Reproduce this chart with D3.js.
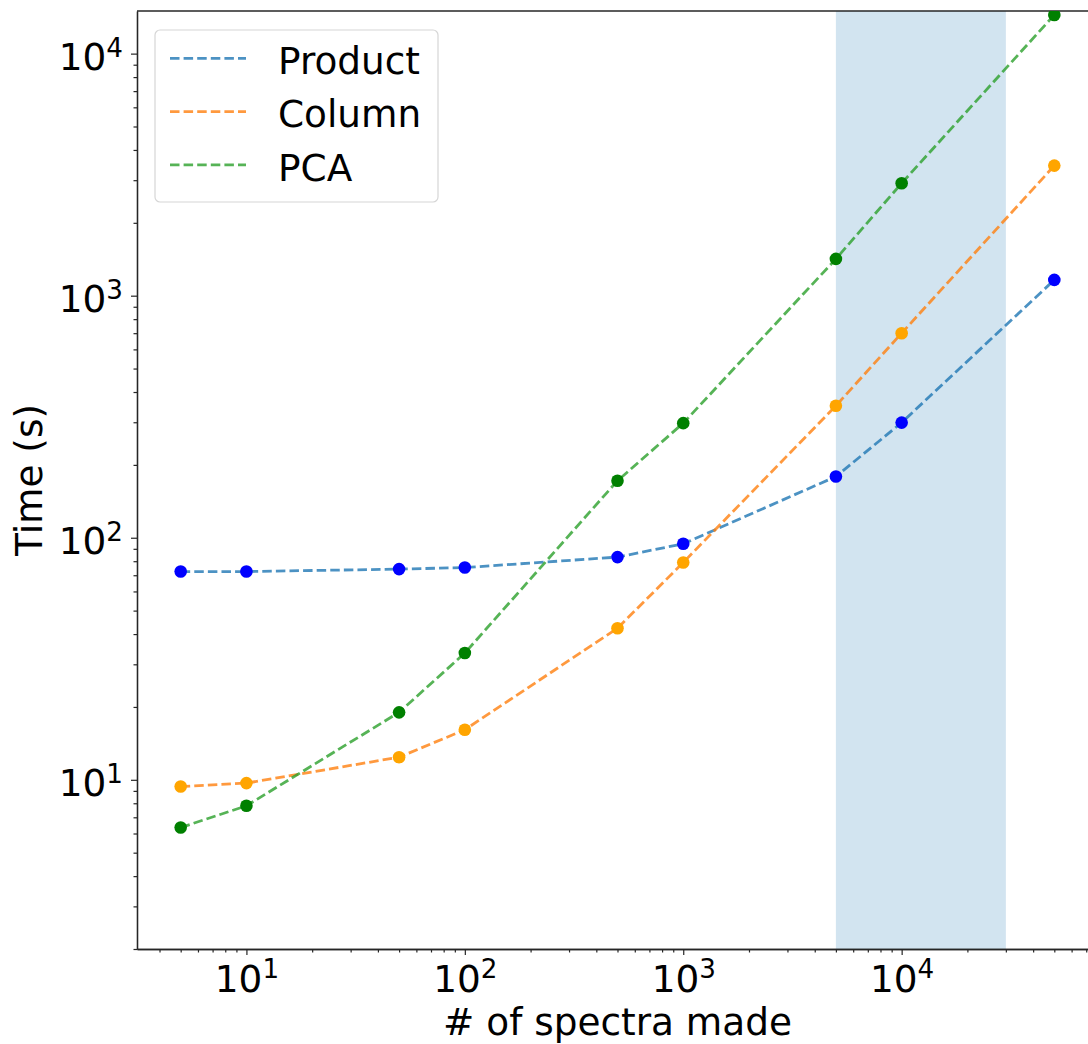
<!DOCTYPE html>
<html>
<head>
<meta charset="utf-8">
<script src="https://cdn.jsdelivr.net/npm/d3@7/dist/d3.min.js"></script>
<style>
  html, body { margin: 0; padding: 0; background: #fff; }
  svg { display: block; font-family: "DejaVu Sans", sans-serif; }
</style>
</head>
<body>
<svg id="chart" width="1088" height="1044"></svg>
<script>
// Number of spectra generated for each timing run
const spectraCounts = [5, 10, 50, 100, 500, 1000, 5000, 10000, 50000];

// Wall-clock time (s) for each method
const productTimes = [72.5, 72.5, 74.2, 75.3, 83.2, 94.4, 179, 299, 1162];
const columnTimes  = [9.38, 9.69, 12.4, 16.1, 42.3, 79.0, 351, 700, 3446];
const pcaTimes     = [6.35, 7.81, 19.0, 33.4, 172, 297.5, 1419, 2915, 14450];

const seriesNames  = ["Product", "Column", "PCA"];
const lineColors   = ["#1f77b4", "#ff7f0e", "#2ca02c"];
const markerColors = ["blue", "orange", "green"];

// Highlighted band of spectra counts
const highlightRange = [5000, 30000];

// Axis limits and major tick exponents
const xDomain = [3.155, 79250];
const yDomain = [2, 15000];
const xTickExponents = [1, 2, 3, 4];
const yTickExponents = [1, 2, 3, 4];

const xLabel = "# of spectra made";
const yLabel = "Time (s)";

// ---------------------------------------------------------------
const svg = d3.select("#chart");
const plot = { left: 137, right: 1098, top: 11, bottom: 949 };
const FONT = 37.4;
const AXIS_COLOR = "#262626";
const LINE_W = 2.8;
const DASH = "9.5 4.1";

const x = d3.scaleLog().domain(xDomain).range([plot.left, plot.right]);
const y = d3.scaleLog().domain(yDomain).range([plot.bottom, plot.top]);

const series = [productTimes, columnTimes, pcaTimes].map((vals, i) => ({
  name: seriesNames[i],
  line: lineColors[i],
  marker: markerColors[i],
  points: spectraCounts.map((c, j) => ({ x: c, y: vals[j] }))
}));

svg.append("defs").append("clipPath").attr("id", "plot-clip")
  .append("rect")
  .attr("x", plot.left).attr("y", plot.top)
  .attr("width", plot.right - plot.left).attr("height", plot.bottom - plot.top);

// Shaded band
svg.append("rect")
  .attr("x", x(highlightRange[0]))
  .attr("y", plot.top)
  .attr("width", x(highlightRange[1]) - x(highlightRange[0]))
  .attr("height", plot.bottom - plot.top)
  .attr("fill", "#1f77b4")
  .attr("fill-opacity", 0.2);

// Minor tick values for log axes
function minorTicks(domain) {
  const out = [];
  const lo = Math.floor(Math.log10(domain[0]));
  const hi = Math.ceil(Math.log10(domain[1]));
  for (let e = lo; e <= hi; e++) {
    for (let m = 2; m <= 9; m++) {
      const v = m * Math.pow(10, e);
      if (v >= domain[0] && v <= domain[1]) out.push(v);
    }
  }
  return out;
}

const xMajor = xTickExponents.map(e => Math.pow(10, e));
const yMajor = yTickExponents.map(e => Math.pow(10, e));

function styleAxis(g) {
  g.select(".domain").attr("stroke", AXIS_COLOR).attr("stroke-width", 1.3);
  g.selectAll(".tick line").attr("stroke", AXIS_COLOR).attr("stroke-width", 1.2);
}

function powerLabel(sel) {
  sel.each(function (d) {
    const e = Math.round(Math.log10(d));
    const t = d3.select(this);
    t.text(null)
      .attr("font-size", FONT)
      .attr("font-family", "DejaVu Sans, sans-serif")
      .attr("fill", "#000");
    t.append("tspan").text("10");
    t.append("tspan").attr("font-size", FONT * 0.7).attr("dy", -13.5).text(e);
  });
}

// X axis: minor then major ticks
svg.append("g")
  .attr("transform", `translate(0,${plot.bottom})`)
  .call(d3.axisBottom(x).tickValues(minorTicks(xDomain)).tickSize(3.5).tickSizeOuter(0).tickFormat(() => ""))
  .call(styleAxis);

const gx = svg.append("g")
  .attr("transform", `translate(0,${plot.bottom})`)
  .call(d3.axisBottom(x).tickValues(xMajor).tickSize(6).tickSizeOuter(0).tickFormat(() => ""))
  .call(styleAxis);
gx.selectAll(".tick text").attr("y", 42.5).attr("dy", 0).call(powerLabel);

// Y axis: minor then major ticks
svg.append("g")
  .attr("transform", `translate(${plot.left},0)`)
  .call(d3.axisLeft(y).tickValues(minorTicks(yDomain)).tickSize(3.5).tickSizeOuter(0).tickFormat(() => ""))
  .call(styleAxis);

const gy = svg.append("g")
  .attr("transform", `translate(${plot.left},0)`)
  .call(d3.axisLeft(y).tickValues(yMajor).tickSize(6).tickSizeOuter(0).tickFormat(() => ""))
  .call(styleAxis);
gy.selectAll(".tick text").attr("x", -14).attr("y", 16).attr("dy", 0).call(powerLabel);

// Top and right spines
svg.append("line")
  .attr("x1", plot.left).attr("x2", plot.right)
  .attr("y1", plot.top).attr("y2", plot.top)
  .attr("stroke", AXIS_COLOR).attr("stroke-width", 1.3);
svg.append("line")
  .attr("x1", plot.right).attr("x2", plot.right)
  .attr("y1", plot.top).attr("y2", plot.bottom)
  .attr("stroke", AXIS_COLOR).attr("stroke-width", 1.3);

// Axis titles
svg.append("text")
  .attr("x", (plot.left + plot.right) / 2)
  .attr("y", 1035.2)
  .attr("text-anchor", "middle")
  .attr("font-size", FONT)
  .attr("fill", "#000")
  .text(xLabel);

svg.append("text")
  .attr("transform", `translate(42,${(plot.top + plot.bottom) / 2}) rotate(-90)`)
  .attr("text-anchor", "middle")
  .attr("font-size", FONT)
  .attr("fill", "#000")
  .text(yLabel);

// Dashed lines
const lineGen = d3.line().x(d => x(d.x)).y(d => y(d.y));
const body = svg.append("g").attr("clip-path", "url(#plot-clip)");

series.forEach(s => {
  body.append("path")
    .datum(s.points)
    .attr("d", lineGen)
    .attr("fill", "none")
    .attr("stroke", s.line)
    .attr("stroke-opacity", 0.8)
    .attr("stroke-width", LINE_W)
    .attr("stroke-dasharray", DASH);
});

// Markers
series.forEach(s => {
  body.append("g")
    .selectAll("circle")
    .data(s.points)
    .join("circle")
    .attr("cx", d => x(d.x))
    .attr("cy", d => y(d.y))
    .attr("r", 6.3)
    .attr("fill", s.marker);
});

// Legend
const legend = svg.append("g").attr("transform", "translate(155,30)");
legend.append("rect")
  .attr("x", 0).attr("y", 0)
  .attr("width", 283).attr("height", 172)
  .attr("rx", 5).attr("ry", 5)
  .attr("fill", "#fff").attr("fill-opacity", 0.8)
  .attr("stroke", "#d6d6d6").attr("stroke-width", 1.2);

series.forEach((s, i) => {
  const cy = 28.3 + i * 53.3;
  legend.append("line")
    .attr("x1", 15).attr("x2", 91)
    .attr("y1", cy).attr("y2", cy)
    .attr("stroke", s.line)
    .attr("stroke-opacity", 0.8)
    .attr("stroke-width", LINE_W)
    .attr("stroke-dasharray", DASH);
  legend.append("text")
    .attr("x", 123)
    .attr("y", cy + 15.7)
    .attr("font-size", FONT)
    .attr("fill", "#000")
    .text(s.name);
});
</script>
</body>
</html>
